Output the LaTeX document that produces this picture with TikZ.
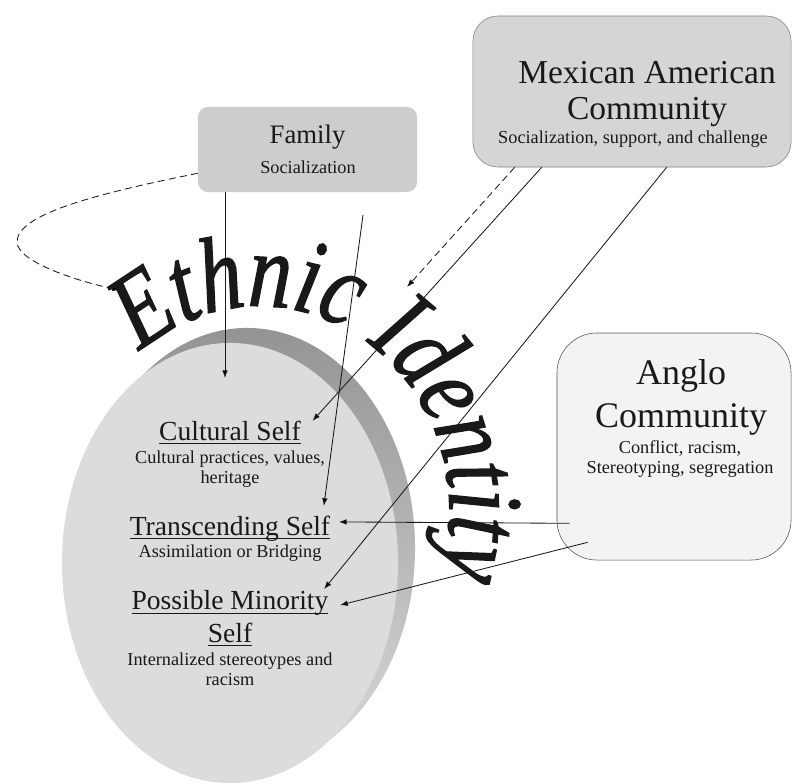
\documentclass[tikz,border=0pt]{standalone}
\usepackage{fontspec}
\setmainfont{Liberation Serif}
\newfontfamily\ethfont[FakeStretch=0.8, FakeBold=1.2]{Liberation Serif}
\usetikzlibrary{arrows.meta,shapes.geometric,decorations.text}
\newsavebox\ulselfbox
\newcommand\ulself[1]{\sbox\ulselfbox{#1}\rlap{\rule[-2.8pt]{\wd\ulselfbox}{0.9pt}}\usebox\ulselfbox}
\definecolor{facegray}{RGB}{220,220,220}
\definecolor{sidetop}{RGB}{148,148,148}
\definecolor{sidebot}{RGB}{218,218,218}
\definecolor{famfill}{RGB}{205,205,205}
\definecolor{mexfill}{RGB}{213,213,213}
\definecolor{mexline}{RGB}{130,130,130}
\definecolor{anglofill}{RGB}{243,243,243}
\definecolor{angloline}{RGB}{85,85,85}
\definecolor{ink}{RGB}{25,25,25}

\begin{document}
\begin{tikzpicture}[x=0.025cm, y=-0.025cm,
    box/.style={rectangle, inner sep=0pt},
    head/.style={inner sep=1pt, align=center, text=ink},
    sub/.style={inner sep=1pt, align=center, text=ink, font=\fontsize{13}{14.2}\selectfont},
    self/.style={inner sep=1pt, align=center, text=ink, font=\fontsize{19.6}{22.8}\selectfont},
    arrow/.style={-{Latex[length=5.5pt,width=4pt]}, line width=0.6pt, draw=ink},
    dashedarrow/.style={arrow, dash pattern=on 5pt off 3pt}
]
    \useasboundingbox (0,0) rectangle (793,782);

    % Ethnic identity disk
    \node[ellipse, minimum width=8.4cm, minimum height=11cm, inner sep=0pt,
          top color=sidetop, bottom color=sidebot] (diskside) at (247,548) {};
    \node[ellipse, minimum width=8.4cm, minimum height=11cm, inner sep=0pt,
          fill=facegray] (disk) at (230,563) {};

    % Family
    \node[box, fill=famfill, minimum width=5.475cm, minimum height=2.125cm,
          rounded corners=0.25cm] (family) at (307.5,149.5) {};
    \node[head, anchor=base, font=\fontsize{19}{22}\selectfont] (famname) at (307.5,143) {Family};
    \node[sub, anchor=base] (famsub) at (308,173) {Socialization};

    % Mexican American community
    \node[box, fill=mexfill, draw=mexline, minimum width=7.95cm, minimum height=3.775cm,
          rounded corners=0.625cm] (mex) at (632,91.5) {};
    \node[head, anchor=base, font=\fontsize{23.8}{25.6}\selectfont] (mexname) at (647,119)
        {Mexican American\\Community};
    \node[sub, anchor=base] (mexsub) at (633,143) {Socialization, support, and challenge};

    % Anglo community
    \node[box, fill=anglofill, draw=angloline, minimum width=5.85cm, minimum height=5.675cm,
          rounded corners=1cm] (anglo) at (674,446.5) {};
    \node[head, anchor=base, font=\fontsize{25.6}{29.9}\selectfont] (angloname) at (681,427)
        {Anglo\\Community};
    \node[sub, anchor=base] (anglosub) at (680,473) {Conflict, racism,\\Stereotyping, segregation};

    % Selves
    \node[self, anchor=base] (cultural) at (230,440) {\ulself{Cultural Self}};
    \node[sub, anchor=base] (culturalsub) at (230,483) {Cultural practices, values,\\heritage};
    \node[self, anchor=base] (transcend) at (230,535) {\ulself{Transcending Self}};
    \node[sub, anchor=base] (transcendsub) at (230,557) {Assimilation or Bridging};
    \node[self, anchor=base] (minority) at (230,642) {\ulself{Possible Minority}\\\ulself{Self}};
    \node[sub, anchor=base] (minoritysub) at (230,685) {Internalized stereotypes and\\racism};

    % Curved title
    \path[decorate, decoration={text along path, text color=ink,
          text={|\ethfont\itshape\fontsize{76}{80}\selectfont|Ethnic Identity}}]
        (140,352) arc[start angle=231, end angle=400, x radius=190, y radius=205];

    \coordinate (ethleft) at (120,290);
    \coordinate (ethtop) at (407,287);
    \coordinate (famdown) at (225,378);
    \coordinate (famfree) at (363,215);

    % Arrows
    \draw[dashedarrow] ([shift={(0,-19)}]family.south west)
        .. controls (90,195) and (17,215) .. (17,242)
        .. controls (17,262) and (80,282) .. (ethleft);
    \draw[arrow] (famdown |- family.south) -- (famdown);
    \draw[arrow] (famfree) -- ([shift={(-8,-8)}]transcend.north east);
    \draw[dashedarrow] ([shift={(42,0)}]mex.south west) -- (ethtop);
    \draw[arrow] ([shift={(69,0)}]mex.south west) -- ([shift={(10,2)}]cultural.north east);
    \draw[arrow] ([shift={(194,0)}]mex.south west) -- ([shift={(-6,0)}]minority.north east);
    \draw[arrow] ([shift={(13,-37)}]anglo.south west) -- ([shift={(7,8)}]transcend.north east);
    \draw[arrow] ([shift={(31,-18)}]anglo.south west) -- ([shift={(10,16)}]minority.north east);
\end{tikzpicture}
\end{document}
